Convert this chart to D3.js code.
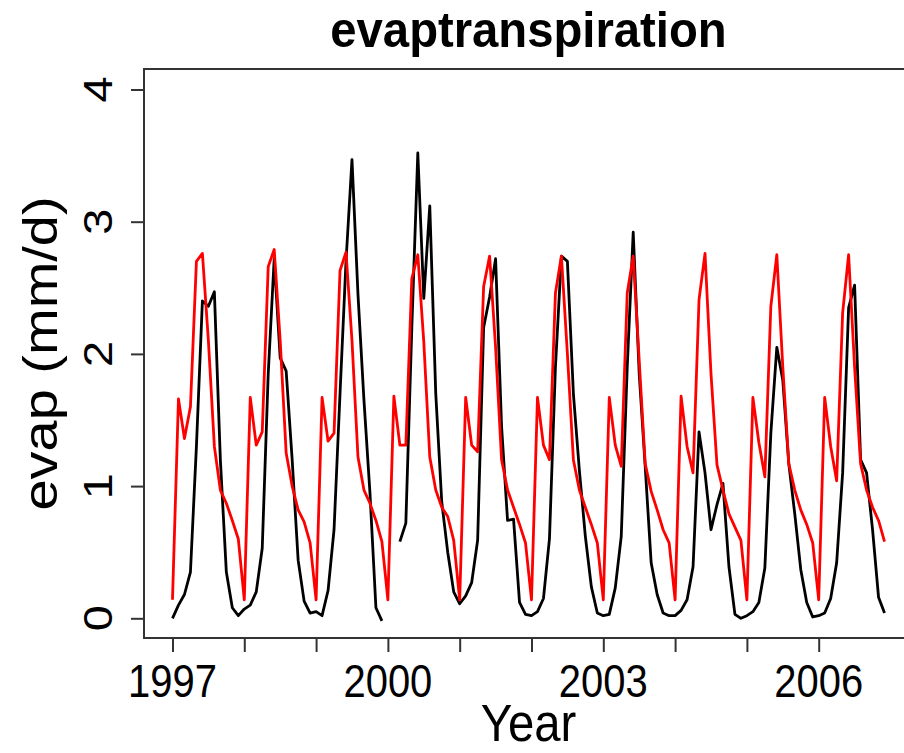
<!DOCTYPE html>
<html>
<head>
<meta charset="utf-8">
<script src="https://cdn.jsdelivr.net/npm/d3@7"></script>
<style>
  html, body { margin: 0; padding: 0; background: #fff; }
  svg { display: block; }
  text { font-family: "Liberation Sans", Arial, Helvetica, sans-serif; fill: #000; }
</style>
</head>
<body>
<svg id="chart" width="904" height="753"></svg>
<script>
// ---- data (monthly values, Jan..Dec for each year) ----
const years = [1997, 1998, 1999, 2000, 2001, 2002, 2003, 2004, 2005, 2006];

// observed evapotranspiration (black), null = missing
const evapObs = [
  0.00, 0.10, 0.18, 0.35, 1.30, 2.40, 2.36, 2.47, 1.20, 0.35, 0.08, 0.02,   // 1997
  0.07, 0.10, 0.20, 0.53, 1.85, 2.72, 1.97, 1.87, 1.20, 0.44, 0.13, 0.04,   // 1998
  0.05, 0.02, 0.21, 0.67, 1.70, 2.70, 3.47, 2.45, 1.65, 0.95, 0.08, -0.02,  // 1999
  null, null, 0.58, 0.72, 2.20, 3.52, 2.42, 3.12, 1.70, 0.88, 0.50, 0.20,   // 2000
  0.11, 0.17, 0.27, 0.59, 2.20, 2.43, 2.72, 1.45, 0.74, 0.75, 0.12, 0.03,   // 2001
  0.02, 0.05, 0.15, 0.60, 1.90, 2.74, 2.70, 1.70, 1.12, 0.62, 0.24, 0.04,   // 2002
  0.02, 0.03, 0.23, 0.62, 1.90, 2.92, 1.85, 1.15, 0.42, 0.18, 0.04, 0.02,   // 2003
  0.02, 0.06, 0.14, 0.39, 1.41, 1.10, 0.67, 0.86, 1.02, 0.39, 0.03, 0.00,   // 2004
  0.02, 0.05, 0.12, 0.38, 1.40, 2.05, 1.80, 1.17, 0.79, 0.37, 0.12, 0.01,   // 2005
  0.02, 0.04, 0.15, 0.42, 1.10, 2.35, 2.52, 1.20, 1.10, 0.67, 0.16, 0.04    // 2006
];

// modelled evapotranspiration (red)
const evapModel = [
  0.14, 1.66, 1.36, 1.60, 2.70, 2.76, 2.10, 1.30, 0.97, 0.87, 0.74, 0.60,   // 1997
  0.14, 1.67, 1.31, 1.41, 2.66, 2.79, 2.10, 1.25, 1.00, 0.82, 0.73, 0.57,   // 1998
  0.14, 1.67, 1.34, 1.40, 2.63, 2.77, 2.10, 1.22, 0.97, 0.87, 0.74, 0.58,   // 1999
  0.14, 1.68, 1.31, 1.31, 2.57, 2.75, 2.09, 1.22, 0.97, 0.84, 0.77, 0.59,   // 2000
  0.14, 1.67, 1.31, 1.26, 2.51, 2.74, 2.05, 1.20, 0.97, 0.84, 0.71, 0.57,   // 2001
  0.14, 1.67, 1.31, 1.20, 2.46, 2.74, 2.00, 1.20, 0.97, 0.84, 0.71, 0.57,   // 2002
  0.14, 1.67, 1.31, 1.15, 2.46, 2.74, 1.95, 1.17, 0.96, 0.82, 0.67, 0.57,   // 2003
  0.14, 1.68, 1.30, 1.10, 2.41, 2.76, 1.85, 1.16, 0.97, 0.79, 0.69, 0.59,   // 2004
  0.14, 1.67, 1.33, 1.07, 2.36, 2.75, 1.90, 1.17, 0.97, 0.82, 0.71, 0.57,   // 2005
  0.14, 1.67, 1.30, 1.04, 2.31, 2.75, 1.90, 1.17, 0.97, 0.84, 0.74, 0.58    // 2006
];

const xTickYears = [1997, 1998, 1999, 2000, 2001, 2002, 2003, 2004, 2005, 2006];
const xTickLabels = ["1997", "", "", "2000", "", "", "2003", "", "", "2006"];
const yTicks = [0, 1, 2, 3, 4];
const yTickLabels = ["0", "1", "2", "3", "4"];

const titleText = "evaptranspiration";
const xLabelText = "Year";
const yLabelText = "evap (mm/d)";

// ---- layout ----
const svg = d3.select("#chart");
const plot = { left: 144, right: 913, top: 69, bottom: 638 };
const squish = 0.85;           // horizontal text compression of the reference

const x = d3.scaleLinear().domain([1996.6033, 2007.3133]).range([plot.left, plot.right]);
const y = d3.scaleLinear().domain([-0.149, 4.155]).range([plot.bottom, plot.top]);

const tOf = i => years[0] + i / 12;

svg.append("rect").attr("width", 904).attr("height", 753).attr("fill", "#fff");

// clip for series
svg.append("clipPath").attr("id", "clip")
  .append("rect")
  .attr("x", plot.left).attr("y", plot.top)
  .attr("width", plot.right - plot.left).attr("height", plot.bottom - plot.top);

const line = d3.line()
  .defined(d => d.v !== null)
  .x(d => x(d.t))
  .y(d => y(d.v));

const obsData = evapObs.map((v, i) => ({ t: tOf(i), v }));
const modData = evapModel.map((v, i) => ({ t: tOf(i), v }));

const series = svg.append("g").attr("clip-path", "url(#clip)");
series.append("path").datum(obsData)
  .attr("d", line).attr("fill", "none")
  .attr("stroke", "#000").attr("stroke-width", 2.8).attr("stroke-linejoin", "round");
series.append("path").datum(modData)
  .attr("d", line).attr("fill", "none")
  .attr("stroke", "#ff0000").attr("stroke-width", 2.8).attr("stroke-linejoin", "round");

// box
svg.append("rect")
  .attr("x", plot.left).attr("y", plot.top)
  .attr("width", plot.right - plot.left).attr("height", plot.bottom - plot.top)
  .attr("fill", "none").attr("stroke", "#333").attr("stroke-width", 2);

// x axis
const xAxis = d3.axisBottom(x)
  .tickValues(xTickYears)
  .tickSize(14)
  .tickFormat(() => "");
const gx = svg.append("g").attr("transform", `translate(0,${plot.bottom})`).call(xAxis);
gx.select(".domain")
  .attr("d", `M${x(xTickYears[0])},0H${x(xTickYears[xTickYears.length - 1])}`)
  .attr("stroke", "#333").attr("stroke-width", 2);
gx.selectAll(".tick line").attr("stroke", "#333").attr("stroke-width", 2);

// y axis
const yAxis = d3.axisLeft(y)
  .tickValues(yTicks)
  .tickSize(13)
  .tickFormat(() => "");
const gy = svg.append("g").attr("transform", `translate(${plot.left},0)`).call(yAxis);
gy.select(".domain")
  .attr("d", `M0,${y(yTicks[0])}V${y(yTicks[yTicks.length - 1])}`)
  .attr("stroke", "#333").attr("stroke-width", 2);
gy.selectAll(".tick line").attr("stroke", "#333").attr("stroke-width", 2);

// text helper (horizontally compressed like the reference)
function label(px, py, txt, size, opts = {}) {
  const sx = opts.sx || squish;
  const g = svg.append("g")
    .attr("transform", `translate(${px},${py}) scale(${sx},1)` + (opts.rotate ? ` rotate(${opts.rotate})` : ""));
  g.append("text")
    .attr("text-anchor", "middle")
    .attr("font-size", size)
    .attr("font-weight", opts.bold ? "bold" : "normal")
    .text(txt);
  return g;
}

// x tick labels
xTickYears.forEach((yr, i) => {
  if (xTickLabels[i]) label(x(yr), 697, xTickLabels[i], 47);
});
// y tick labels (rotated, parallel to axis)
yTicks.forEach((v, i) => {
  label(112, y(v), yTickLabels[i], 47, { rotate: -90 });
});

// titles
label((plot.left + plot.right) / 2, 47, titleText, 50, { bold: true, sx: 0.945 });
label((plot.left + plot.right) / 2, 741, xLabelText, 52, { sx: 0.91 });
label(57, (plot.top + plot.bottom) / 2, yLabelText, 56, { rotate: -90 });
</script>
</body>
</html>
